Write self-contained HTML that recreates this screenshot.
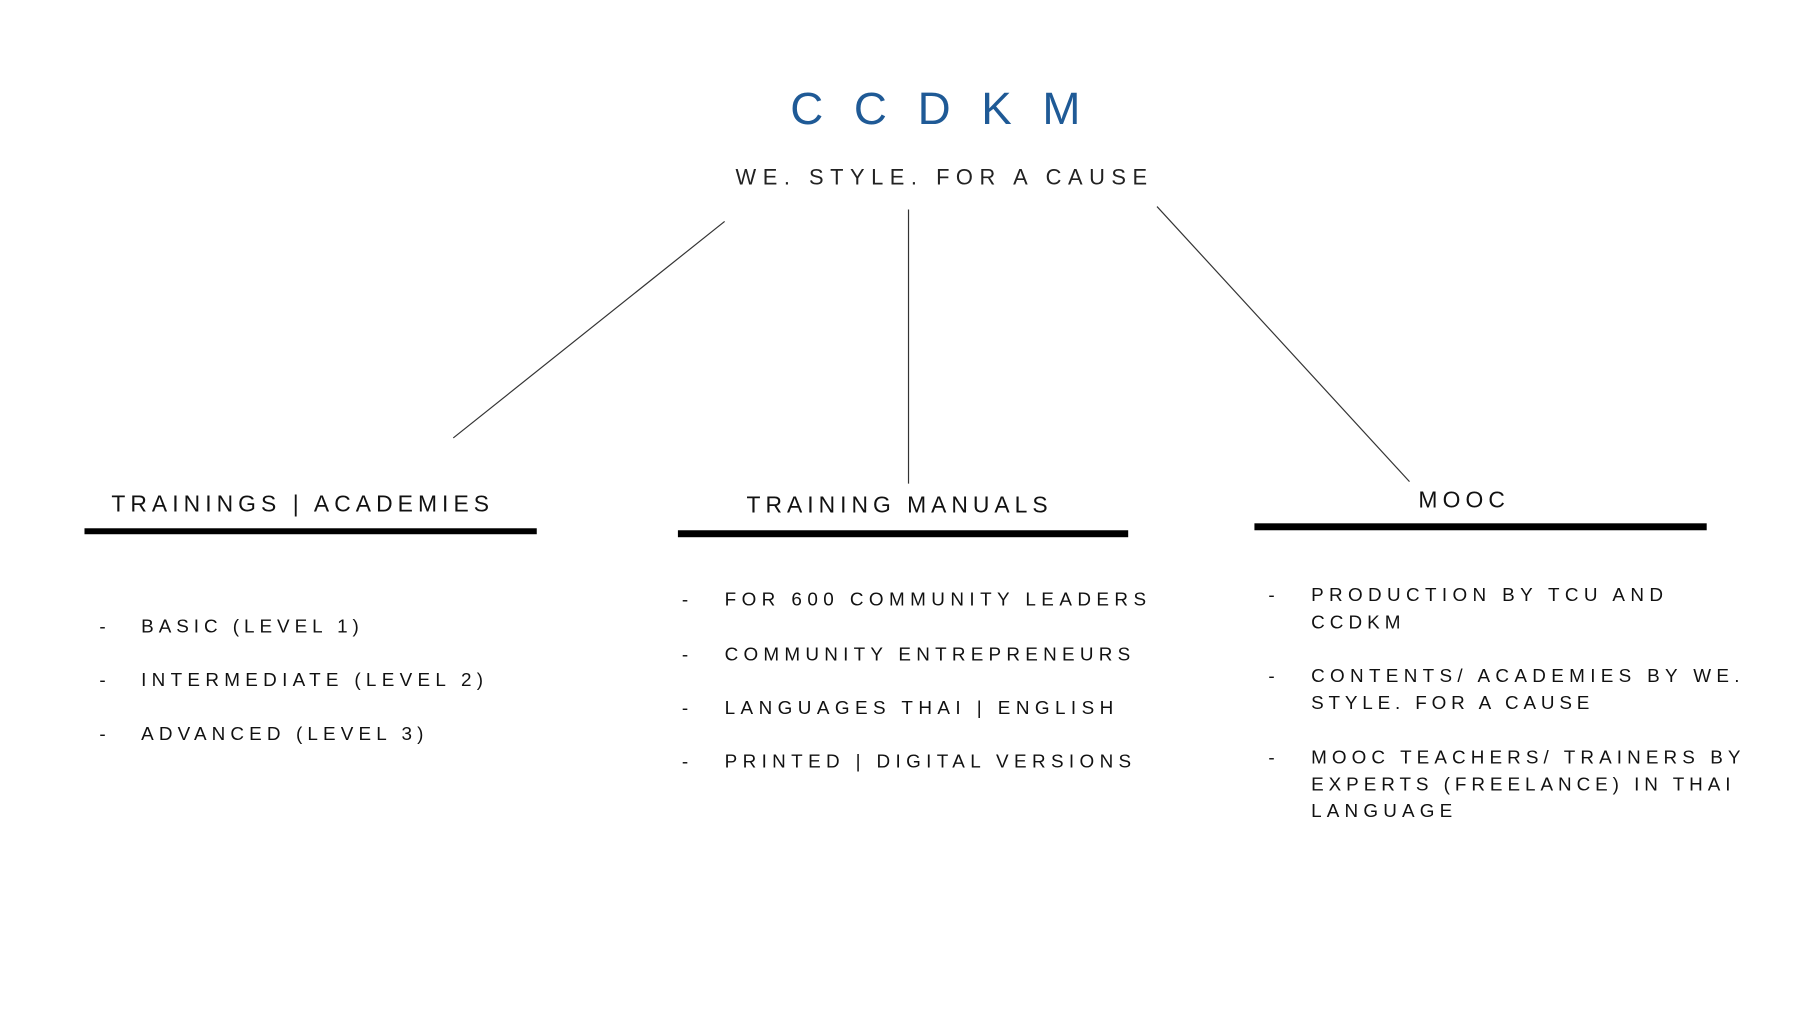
<!DOCTYPE html>
<html><head><meta charset="utf-8"><style>html,body{margin:0;padding:0;background:#fff}svg{display:block}</style></head>
<body>
<svg width="1800" height="1012" viewBox="0 0 1800 1012" xmlns="http://www.w3.org/2000/svg" font-family="Liberation Sans, sans-serif">
<rect width="1800" height="1012" fill="#fff"/>
<g transform="scale(0.994 0.993)">
<text x="795" y="125" font-size="46" fill="#1f5a96" textLength="292" lengthAdjust="spacing">CCDKM</text>
<text x="740" y="186" font-size="22" fill="#222" textLength="414" lengthAdjust="spacing">WE. STYLE. FOR A CAUSE</text>
<g stroke="#333" stroke-width="1.2">
<line x1="729" y1="223" x2="456" y2="441"/>
<line x1="914" y1="211" x2="914" y2="487"/>
<line x1="1164" y1="208" x2="1418" y2="485"/>
</g>
<g fill="#000">
<rect x="85" y="532" width="455" height="6"/>
<rect x="682" y="534" width="453" height="7"/>
<rect x="1262" y="527" width="455" height="7"/>
</g>
<g font-size="23" fill="#111">
<text x="112" y="515" textLength="380" lengthAdjust="spacing">TRAININGS | ACADEMIES</text>
<text x="751" y="516" textLength="303" lengthAdjust="spacing">TRAINING MANUALS</text>
<text x="1427" y="511" textLength="87" lengthAdjust="spacing">MOOC</text>
</g>
<g font-size="19" fill="#111">
<text x="100" y="637">-</text><text x="142" y="637" textLength="219" lengthAdjust="spacing">BASIC (LEVEL 1)</text>
<text x="100" y="691">-</text><text x="142" y="691" textLength="344" lengthAdjust="spacing">INTERMEDIATE (LEVEL 2)</text>
<text x="100" y="745">-</text><text x="142" y="745" textLength="284" lengthAdjust="spacing">ADVANCED (LEVEL 3)</text>

<text x="686" y="610">-</text><text x="729" y="610" textLength="424" lengthAdjust="spacing">FOR 600 COMMUNITY LEADERS</text>
<text x="686" y="665">-</text><text x="729" y="665" textLength="408" lengthAdjust="spacing">COMMUNITY ENTREPRENEURS</text>
<text x="686" y="719">-</text><text x="729" y="719" textLength="391" lengthAdjust="spacing">LANGUAGES THAI | ENGLISH</text>
<text x="686" y="773">-</text><text x="729" y="773" textLength="409" lengthAdjust="spacing">PRINTED | DIGITAL VERSIONS</text>

<text x="1276" y="605">-</text><text x="1319" y="605" textLength="354" lengthAdjust="spacing">PRODUCTION BY TCU AND</text>
<text x="1319" y="633" textLength="90" lengthAdjust="spacing">CCDKM</text>
<text x="1276" y="687">-</text><text x="1319" y="687" textLength="431" lengthAdjust="spacing">CONTENTS/ ACADEMIES BY WE.</text>
<text x="1319" y="714" textLength="280" lengthAdjust="spacing">STYLE. FOR A CAUSE</text>
<text x="1276" y="769">-</text><text x="1319" y="769" textLength="432" lengthAdjust="spacing">MOOC TEACHERS/ TRAINERS BY</text>
<text x="1319" y="796" textLength="422" lengthAdjust="spacing">EXPERTS (FREELANCE) IN THAI</text>
<text x="1319" y="823" textLength="142" lengthAdjust="spacing">LANGUAGE</text>
</g>
</g>
</svg>
</body></html>
